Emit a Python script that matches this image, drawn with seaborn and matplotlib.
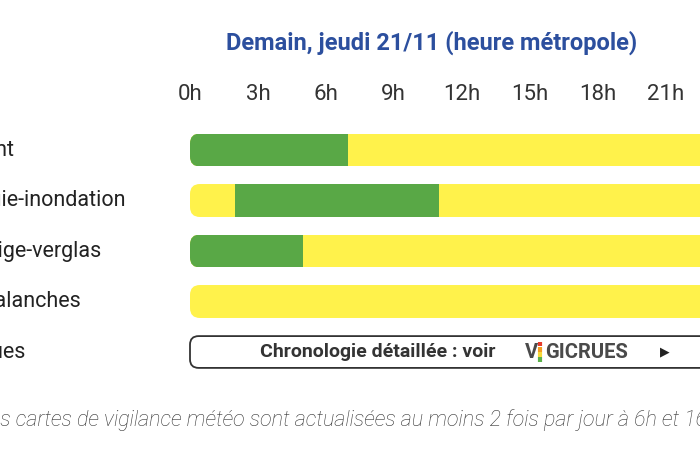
import matplotlib
matplotlib.use("Agg")
import matplotlib.pyplot as plt
from matplotlib.patches import FancyBboxPatch
import seaborn as sns

# vigilance rows (labels are cut by the left edge in the screenshot)
risks = ["Vent", "Pluie-inondation", "Neige-verglas", "Avalanches", "Crues"]
day_len = [24, 24, 24, 24]          # whole day in yellow for the 4 first rows
green_rows = [0, 1, 2]
green_start = [0, 2, 0]
green_end = [7, 11, 5]
hours = [0, 3, 6, 9, 12, 15, 18, 21]
hour_labels = [f"{h}h" for h in hours]

title = "Demain, jeudi 21/11 (heure métropole)"
note = "Les cartes de vigilance météo sont actualisées au moins 2 fois par jour à 6h et 16h."

GREEN = "#59a846"
YELLOW = "#fff24b"

sns.set_theme(style="white")
plt.rcParams["font.family"] = ["Roboto", "DejaVu Sans"]

fig = plt.figure(figsize=(7, 4.5), dpi=100)
ax = fig.add_axes([0, 0, 1, 1])

# yellow background bars for the whole day
sns.barplot(x=day_len, y=risks[:4], orient="h", color=YELLOW, saturation=1,
            width=0.653, linewidth=0, ax=ax)
# green periods
greens = ax.barh(green_rows, [e - s for s, e in zip(green_start, green_end)],
                 left=green_start, height=0.653, color=GREEN, linewidth=0)

# px -> data: 0h at x=190px, 22.64 px per hour ; row 0 at y=150px, 50.5 px per row
ax.set_xlim(-190 / 22.64, (700 - 190) / 22.64)
ax.set_ylim((450 - 150) / 50.5, -150 / 50.5)
ax.set_xticks([])
ax.set_yticks([])
ax.set_xlabel("")
ax.set_ylabel("")
for s in ax.spines.values():
    s.set_visible(False)

# rounded ends of each bar
h = 0.653
clips = []
for i in range(4):
    clip = FancyBboxPatch((0, i - h / 2), 24, h,
                          boxstyle="round,pad=0,rounding_size=0.44",
                          mutation_aspect=0.448, transform=ax.transData)
    clips.append(clip)
for bar in ax.patches[:4]:
    i = round(bar.get_y() + bar.get_height() / 2)
    bar.set_clip_path(clips[i])
for bar, i in zip(greens, green_rows):
    bar.set_clip_path(clips[i])

# Crues button
ax.add_patch(FancyBboxPatch((0, 4 - 0.315), 26, 0.63,
                            boxstyle="round,pad=0,rounding_size=0.38",
                            mutation_aspect=0.448, facecolor="white",
                            edgecolor="#333333", linewidth=1.3))
ax.text(8.28, 4.0, "Chronologie détaillée : voir", ha="center", va="center",
        fontsize=14, fontweight="bold", color="#333333")
ax.text(14.8, 4.0, "V", ha="left", va="center", fontsize=14.5,
        fontweight="bold", color="#4a4a4a")
ax.text(15.68, 4.0, "GICRUES", ha="left", va="center", fontsize=14.5,
        fontweight="bold", color="#4a4a4a")
for y0, y1, c in [(3.80, 3.88, "#e53b2c"), (3.90, 4.0, "#f39c1f"),
                  (4.0, 4.1, "#f6d93a"), (4.1, 4.2, "#5bb04a")]:
    ax.vlines(15.47, y0, y1, color=c, linewidth=3)
ax.text(20.98, 4.0, "▶", ha="center", va="center", fontsize=9, color="#222222")

# row labels (start off the left edge)
for i, name in enumerate(risks):
    ax.text((-29 - 190) / 22.64, i, name, ha="left", va="center",
            fontsize=15.5, color="#222222", clip_on=False)

# hour labels
for hr, lab in zip(hours, hour_labels):
    ax.text(hr, -55 / 50.5, lab, ha="center", va="center", fontsize=16,
            color="#333333")

fig.text(432 / 700, 1 - 43 / 450, title, ha="center", va="center",
         fontsize=17, fontweight="bold", color="#2c4f9e")
fig.text(-21 / 700, 1 - 420 / 450, note, ha="left", va="center",
         fontsize=15.5, style="italic", fontweight="light", color="#333333")

fig.savefig("out.png", dpi=100)
